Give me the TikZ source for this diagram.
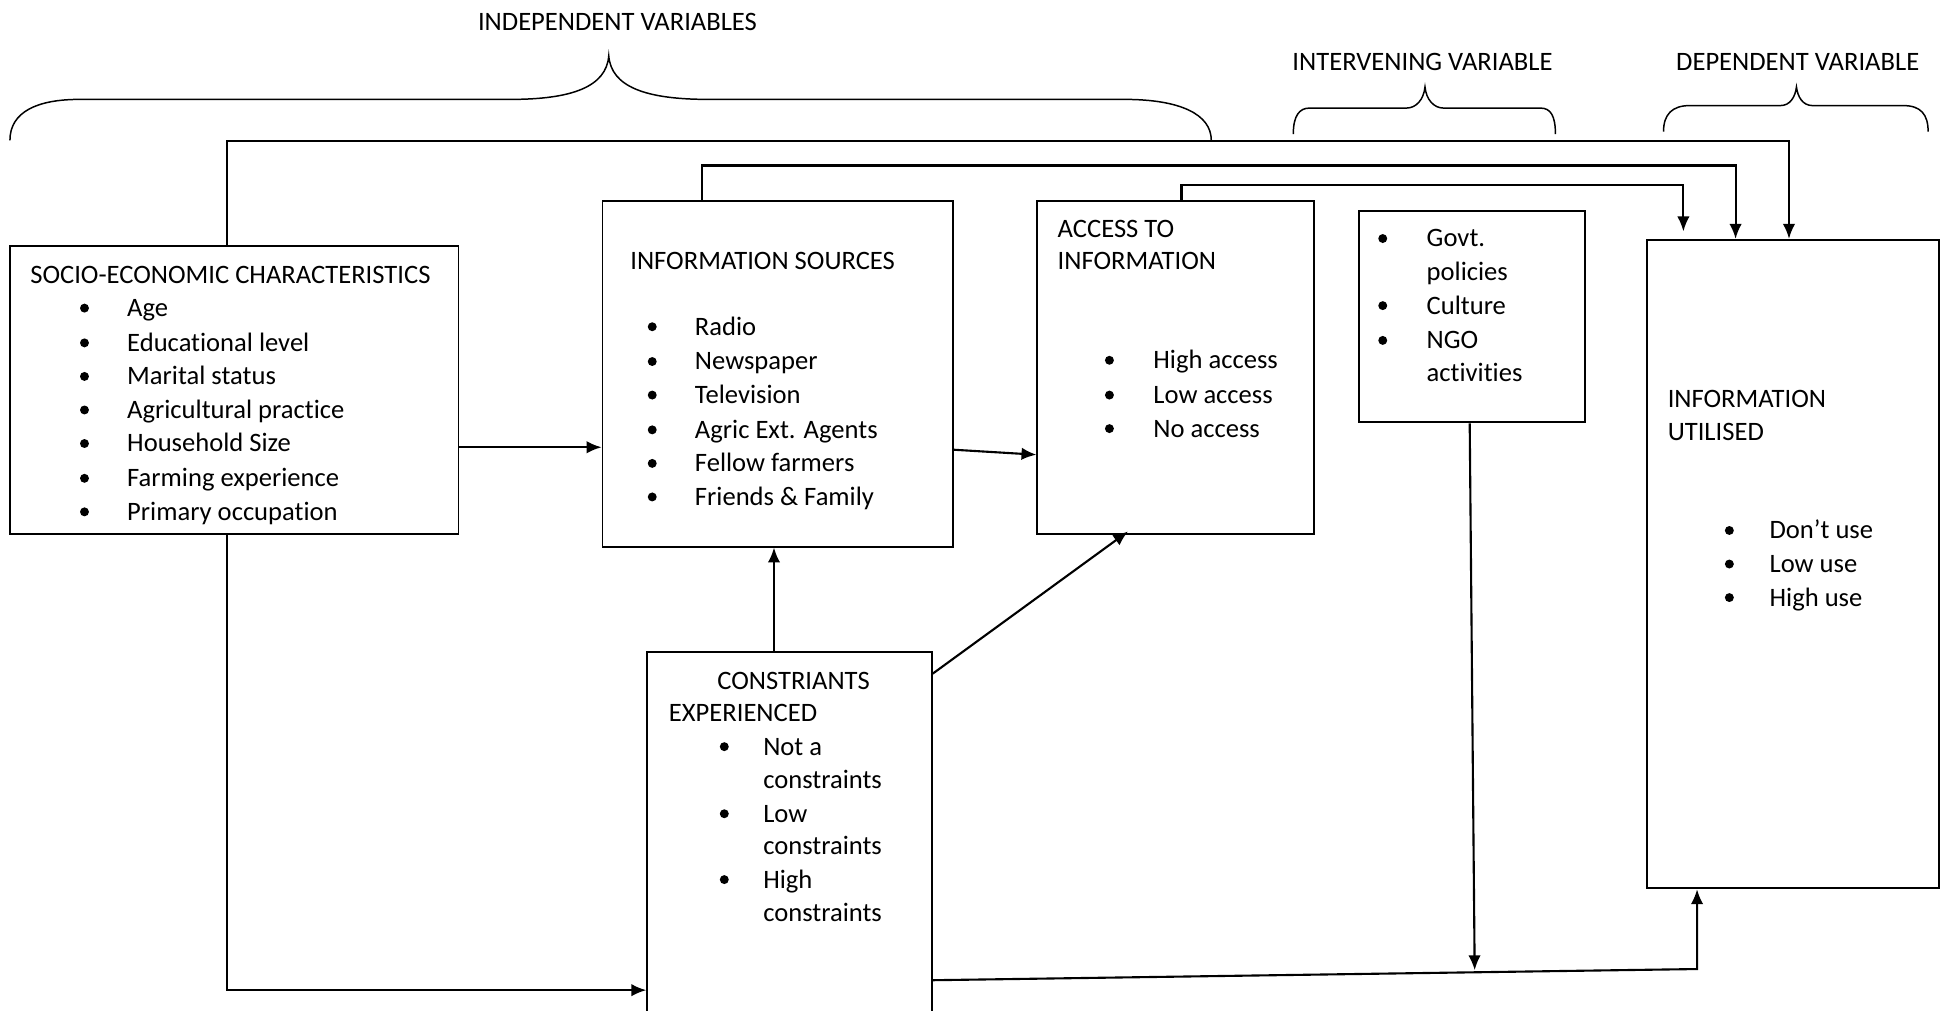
\documentclass[tikz,border=0pt]{standalone}
\usepackage{fontspec}
\setmainfont{Carlito}[Ligatures=NoCommon]
\usetikzlibrary{arrows.meta,calc,fit}
\tikzstyle{box}=[draw,rectangle,inner sep=0pt,line width=0.75pt]
\tikzstyle{edge}=[draw,line width=0.85pt,->,>={Latex[length=6pt,width=5pt]}]
\tikzstyle{brace}=[draw,line width=0.6pt]
\tikzstyle{item}=[anchor=base west,inner sep=0pt,yshift=-3.4pt,font=\fontsize{10.7}{13}\selectfont]
\tikzstyle{heading}=[anchor=base,inner sep=0pt,yshift=-3.4pt,font=\fontsize{10.7}{13}\selectfont]
\tikzstyle{dot}=[circle,fill=black,inner sep=0pt,minimum size=3.6pt]

\begin{document}
\begin{tikzpicture}[x=0.5pt,y=-0.5pt]
\useasboundingbox (0,0) rectangle (1568,813);

% Headings
\node[heading] (indep) at (497,18) {INDEPENDENT VARIABLES};
\node[heading] (interv) at (1145,50) {INTERVENING VARIABLE};
\node[heading] (dep) at (1447,50) {DEPENDENT VARIABLE};

% Braces
\path[brace] (8,113) .. controls (8,90) and (30,80) .. (64,80) -- (411,80)
   .. controls (460,80) and (488,70) .. (490,45)
   .. controls (492,70) and (520,80) .. (570,80) -- (905,80)
   .. controls (950,80) and (975,92) .. (975,113);
\path[brace] (1041,108) .. controls (1041,93) and (1046,87) .. (1054,87) -- (1132,87)
   .. controls (1140,87) and (1146,80) .. (1147,70)
   .. controls (1148,80) and (1154,87) .. (1162,87) -- (1240,87)
   .. controls (1248,87) and (1252,93) .. (1252,108);
\path[brace] (1339,106) .. controls (1339,92) and (1346,85) .. (1360,85) -- (1433,85)
   .. controls (1441,85) and (1445,78) .. (1446,70)
   .. controls (1447,78) and (1451,85) .. (1459,85) -- (1532,85)
   .. controls (1546,85) and (1552,92) .. (1552,106);

% Boxes
\node[box,fit={(8,198) (369,430)}] (socio) {};
\node[box,fit={(485,162) (767,440)}] (info) {};
\node[box,fit={(835,162) (1058,430)}] (access) {};
\node[box,fit={(1094,170) (1276,340)}] (govt) {};
\node[box,fit={(1326,193) (1561,715)}] (util) {};
\node[box,fit={(521,525) (750,830)}] (constr) {};

% Socio-economic
\node[item] (socioT) at (24,221) {SOCIO-ECONOMIC CHARACTERISTICS};
\foreach \y/\t in {248/Age, 276/Educational level, 303/Marital status, 330/Agricultural practice, 357/Household Size, 385/Farming experience, 412/Primary occupation}
{
  \node[dot] (socioB\y) at (68,\y) {};
  \node[item] (socioI\y) at (102,\y) {\t};
}

% Sources
\node[item] (infoT) at (507,210) {INFORMATION SOURCES};
\foreach \y/\t in {263/Radio, 291/Newspaper, 318/Television, 346/Agric Ext. Agents, 373/Fellow farmers, 400/Friends \& Family}
{
  \node[dot] (infoB\y) at (525,\y) {};
  \node[item] (infoI\y) at (559,\y) {\t};
}

% Access
\node[item] (accessT1) at (851,184) {ACCESS TO};
\node[item] (accessT2) at (851,210) {INFORMATION};
\foreach \y/\t in {290/High access, 318/Low access, 345/No access}
{
  \node[dot] (accessB\y) at (893,\y) {};
  \node[item] (accessI\y) at (928,\y) {\t};
}

% Intervening
\foreach \y in {192,246,274}
  \node[dot] (govtB\y) at (1113,\y) {};
\foreach \y/\t in {192/Govt., 219/policies, 246/Culture, 274/NGO, 300/activities}
  \node[item] (govtI\y) at (1148,\y) {\t};

% Utilised
\node[item] (utilT1) at (1342,321) {INFORMATION};
\node[item] (utilT2) at (1342,348) {UTILISED};
\foreach \y/\t in {427/Don’t use, 454/Low use, 481/High use}
{
  \node[dot] (utilB\y) at (1392,\y) {};
  \node[item] (utilI\y) at (1424,\y) {\t};
}

% Constraints
\node[item] (constrT1) at (577,548) {CONSTRIANTS};
\node[item] (constrT2) at (538,574) {EXPERIENCED};
\foreach \y in {601,655,708}
  \node[dot] (constrB\y) at (583,\y) {};
\foreach \y/\t in {601/Not a, 628/constraints, 655/Low, 681/constraints, 708/High, 735/constraints}
  \node[item] (constrI\y) at (614,\y) {\t};

% Connectors
\draw[edge] ([xshift=-2.75pt]socio.north) -- ++(0,-84) -| ([xshift=-1.75pt]util.north);
\draw[edge] ([xshift=-30.5pt]info.north) -- ++(0,-28) -| ([xshift=-23.25pt]util.north);
\draw[edge] ([xshift=2.25pt]access.north) -- ++(0,-12) -| ([xshift=-44.25pt,yshift=3pt]util.north);

\draw[edge] ([yshift=-23pt]socio.east) -- ([yshift=-23pt]socio.east -| info.west);
\draw[edge] ([yshift=-30.5pt]info.east) -- ([yshift=-35pt]access.west);
\draw[edge] ([xshift=-6.25pt]constr.north) -- ([xshift=-6.25pt]constr.north |- info.south);
\draw[edge] ([yshift=-9pt]constr.north east) -- ([xshift=-19.25pt,yshift=1.5pt]access.south);
\draw[edge] ([xshift=-2.75pt]socio.south) |- ([yshift=-59.75pt]constr.west);

\coordinate (corner) at (1366,780);
\coordinate (govtend) at (1187,781);
\draw[edge] ([yshift=-55.75pt]constr.east) -- (corner) -- (corner |- util.south);
\draw[edge] ([xshift=-1pt]govt.south) -- (govtend);

\end{tikzpicture}
\end{document}
